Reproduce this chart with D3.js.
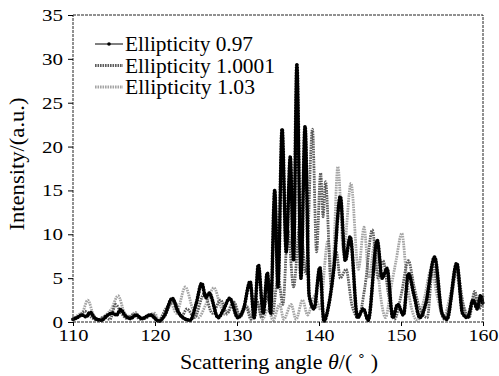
<!DOCTYPE html>
<html>
<head>
<meta charset="utf-8">
<script src="https://cdn.jsdelivr.net/npm/d3@7"></script>
<style>
  body { margin: 0; background: #fff; }
  text { font-family: "Liberation Serif", "DejaVu Serif", serif; fill: #000; }
</style>
</head>
<body>
<svg id="chart"></svg>
<script>
// values: [scattering angle, intensity] at the peaks and troughs
const ell097 = [
  [110,0.3],[110.5,0.5],[111.1,0.8],[111.6,0.6],[112.1,1.1],[112.7,0.4],[113.5,0.2],[114.1,0.7],
  [114.8,1.0],[115.3,0.8],[115.8,1.4],[116.4,0.7],[117.0,0.4],[117.7,0.8],[118.4,0.4],[119.4,0.8],
  [120.5,0.1],[121.2,0.8],[122.1,2.7],[122.8,1.2],[123.4,0.5],[124.3,0.2],[125.0,2.0],[125.7,4.4],
  [126.2,2.8],[126.6,3.3],[127.7,0.5],[128.4,1.5],[129.1,2.7],[130.1,0.5],[130.8,1.5],[131.6,4.6],
  [132.1,0.5],[132.6,6.5],[133.2,1.0],[133.7,5.6],[134.1,1.0],[134.6,15.0],[135.0,4.0],[135.5,22.0],
  [136.0,8.0],[136.5,18.8],[136.9,7.0],[137.3,29.3],[137.8,5.0],[138.3,22.3],[138.8,3.0],[139.4,1.5],
  [140.1,6.2],[140.6,0.1],[141.2,2.0],[141.8,6.0],[142.6,14.3],[143.2,7.0],[143.8,9.7],[144.7,0.5],
  [145.4,1.5],[146.0,0.2],[147.1,9.3],[147.7,5.0],[148.3,6.1],[149.0,0.5],[149.6,2.0],[150.3,0.8],
  [150.9,5.5],[151.6,3.0],[152.3,0.5],[153.0,2.0],[154.1,7.4],[155.0,1.0],[155.6,0.3],[156.8,6.7],
  [157.5,1.0],[158.1,0.5],[158.8,2.5],[159.3,1.5],[159.7,3.0],[160,2.0]
];

const ell10001 = [
  [110,0.2],[110.7,0.6],[111.5,1.2],[112.3,0.5],[113.0,0.2],[113.8,0.6],[114.5,0.3],[115.2,2.0],
  [115.9,1.0],[116.6,0.4],[117.4,0.9],[118.2,0.3],[119.0,0.5],[119.7,0.9],[120.4,0.1],[121.3,1.5],
  [122.4,2.3],[123.2,0.6],[123.9,1.5],[124.8,0.5],[126.0,3.2],[127.0,1.0],[128.0,2.5],[128.8,1.0],
  [129.6,2.3],[130.4,0.6],[131.1,1.8],[131.7,0.3],[132.4,2.5],[133.0,0.5],[133.7,2.8],[134.3,0.8],
  [135.0,5.0],[135.6,2.0],[136.2,10.5],[136.9,4.0],[137.7,11.5],[138.4,5.5],[139.2,22.0],[139.7,8.0],
  [140.2,17.0],[140.5,12.0],[140.8,16.0],[141.5,4.0],[142.1,8.0],[142.6,5.0],[143.3,6.0],[144.0,2.0],
  [144.8,0.5],[145.6,4.0],[146.5,10.5],[147.2,5.0],[147.8,7.0],[148.5,3.0],[149.2,0.3],[150.0,3.0],
  [150.9,7.0],[151.6,4.0],[152.3,1.5],[153.2,0.5],[153.9,6.5],[154.6,3.0],[155.3,0.3],[156.1,2.5],
  [156.8,6.0],[157.6,2.0],[158.3,0.5],[159.0,3.5],[159.5,1.5],[160,3.0]
];

const ell103 = [
  [110,0.3],[110.6,0.8],[111.2,1.2],[111.8,2.5],[112.5,0.8],[113.2,0.3],[114.0,0.8],[114.7,1.5],
  [115.5,3.0],[116.3,1.0],[117.0,0.6],[117.6,1.1],[118.3,0.4],[119.0,0.6],[120.0,1.0],[120.4,0.2],
  [121.2,0.7],[122.0,2.0],[122.6,1.0],[123.7,4.0],[124.6,1.5],[125.3,0.5],[126.2,2.0],[127.2,3.9],
  [128.0,1.8],[128.6,0.8],[129.5,2.2],[130.3,0.5],[131.2,1.8],[131.8,0.7],[132.5,2.2],[133.1,0.3],
  [133.8,1.5],[134.4,0.2],[135.2,2.0],[135.7,0.3],[136.6,2.0],[137.2,0.3],[138.0,2.5],[138.6,0.8],
  [139.5,3.0],[140.1,1.5],[141.1,9.3],[141.6,5.0],[142.3,17.7],[143.0,8.0],[143.9,15.8],[144.8,6.0],
  [145.5,10.8],[146.1,5.0],[146.8,9.0],[147.5,3.0],[148.1,0.5],[148.8,4.0],[149.4,7.0],[150.1,10.1],
  [150.7,5.0],[151.3,1.5],[152.0,0.2],[152.8,2.5],[153.7,6.0],[154.4,3.0],[155.2,0.5],[156.0,3.0],
  [156.7,5.5],[157.5,2.0],[158.2,0.5],[158.9,3.0],[159.5,1.5],[160,2.5]
];

const seriesNames = ['Ellipticity 0.97', 'Ellipticity 1.0001', 'Ellipticity 1.03'];
const xTicks = [110, 120, 130, 140, 150, 160];
const yTicks = [0, 5, 10, 15, 20, 25, 30, 35];

const width = 499, height = 376;
const margin = {top: 15, right: 16, bottom: 54, left: 73};
const innerW = width - margin.left - margin.right;
const innerH = height - margin.top - margin.bottom;

const svg = d3.select('#chart')
    .attr('width', width)
    .attr('height', height);

const chart = svg.append('g')
    .attr('transform', `translate(${margin.left},${margin.top})`);

const x = d3.scaleLinear().domain([110, 160]).range([0, innerW]);
const y = d3.scaleLinear().domain([0, 35]).range([innerH, 0]);

const line = d3.line()
    .x(d => x(d[0]))
    .y(d => y(d[1]))
    .curve(d3.curveMonotoneX);

// light gray first, black on top
const styles = [
  {data: ell097, color: '#000', base: 1, dotW: 3.8, dash: '0.1,2.6'},
  {data: ell10001, color: '#5c5c5c', base: 0, dotW: 2.8, dash: '1.6,0.9'},
  {data: ell103, color: '#a4a4a4', base: 0, dotW: 2.8, dash: '1.6,0.9'}
];

styles.slice().reverse().forEach(s => {
  if (s.base) {
    chart.append('path')
        .attr('d', line(s.data))
        .attr('fill', 'none')
        .attr('stroke', s.color)
        .attr('stroke-width', s.base);
  }
  chart.append('path')
      .attr('d', line(s.data))
      .attr('fill', 'none')
      .attr('stroke', s.color)
      .attr('stroke-width', s.dotW)
      .attr('stroke-dasharray', s.dash)
      .attr('stroke-linecap', s.base ? 'round' : 'butt');
});

// frame
chart.append('rect')
    .attr('width', innerW)
    .attr('height', innerH)
    .attr('fill', 'none')
    .attr('stroke', '#222')
    .attr('stroke-width', 1)
    .attr('stroke-dasharray', '3,1');

const xAxis = d3.axisBottom(x).tickValues(xTicks).tickSize(4).tickPadding(3);
const yAxis = d3.axisLeft(y).tickValues(yTicks).tickSize(5).tickPadding(5);

chart.append('g')
    .attr('transform', `translate(0,${innerH})`)
    .call(xAxis)
    .call(g => g.select('.domain').remove())
    .call(g => g.selectAll('text')
        .style('font-size', '17px')
        .style('font-family', '"Liberation Serif", serif')
        .attr('textLength', d => String(d).length * 10)
        .attr('lengthAdjust', 'spacingAndGlyphs'));

chart.append('g')
    .call(yAxis)
    .call(g => g.select('.domain').remove())
    .call(g => g.selectAll('text')
        .style('font-size', '17px')
        .style('font-family', '"Liberation Serif", serif')
        .attr('textLength', d => String(d).length * 10.5)
        .attr('lengthAdjust', 'spacingAndGlyphs'));

// axis titles
svg.append('text')
    .attr('transform', 'translate(24,164) rotate(-90)')
    .attr('text-anchor', 'middle')
    .attr('textLength', 133)
    .attr('lengthAdjust', 'spacingAndGlyphs')
    .style('font-size', '20px')
    .text('Intensity/(a.u.)');

const xt = svg.append('text')
    .attr('x', 279)
    .attr('y', 369)
    .attr('text-anchor', 'middle')
    .attr('textLength', 198)
    .attr('lengthAdjust', 'spacingAndGlyphs')
    .style('font-size', '20px');
xt.append('tspan').text('Scattering angle ');
xt.append('tspan').style('font-style', 'italic').text('θ');
xt.append('tspan').text('/( ˚ )');

// legend
const legend = svg.append('g').attr('transform', 'translate(95,44)');
styles.forEach((s, i) => {
  const row = legend.append('g').attr('transform', `translate(0,${i * 21.5})`);
  if (s.base) {
    row.append('line').attr('x1', 0).attr('x2', 28)
        .attr('stroke', s.color).attr('stroke-width', 1);
    row.append('circle').attr('cx', 14).attr('r', 1.8).attr('fill', s.color);
  } else {
    row.append('line').attr('x1', 0).attr('x2', 28)
        .attr('stroke', s.color).attr('stroke-width', s.dotW)
        .attr('stroke-dasharray', s.dash);
  }
  row.append('text')
      .attr('x', 30)
      .attr('y', 7)
      .style('font-size', '20px')
      .attr('textLength', [128, 150, 130][i])
      .attr('lengthAdjust', 'spacingAndGlyphs')
      .text(seriesNames[i]);
});
</script>
</body>
</html>
